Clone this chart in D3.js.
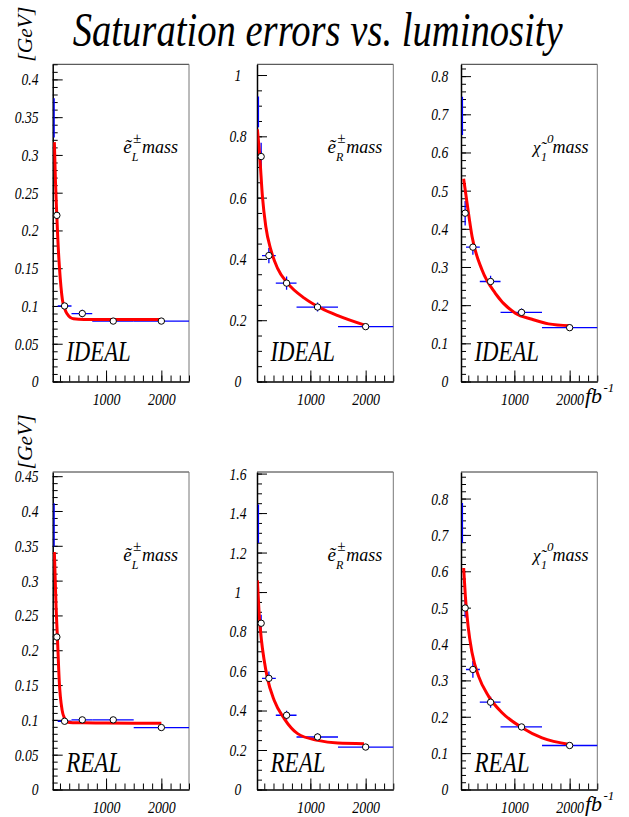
<!DOCTYPE html>
<html><head><meta charset="utf-8">
<script src="https://cdn.jsdelivr.net/npm/d3@7"></script>
</head><body style="margin:0;background:#fff">
<svg id="c" width="629" height="817" style="display:block"></svg>
<script>
// ---------- data ----------
const lumi   = [110, 250, 570, 1130, 2000];       // fb^-1
const lumiLo = [85, 125, 375, 750, 1500];
const lumiHi = [135, 375, 750, 1500, 2500];
const edgeLumi = 60;
const xTickLabels = [1000, 2000];

// IDEAL, e_L
const idealELVals = [0.22, 0.10, 0.09, 0.08, 0.08];
const idealELErrs = [0.003, 0.003, 0.005, 0.004, 0.004];
const idealELEdge = [0.323, 0.375];
const idealELFitX = [65, 85, 109, 130, 156, 185, 211, 250, 291, 411, 600, 1000, 2000];
const idealELFitY = [0.317, 0.265, 0.22, 0.185, 0.152, 0.125, 0.108, 0.097, 0.090, 0.083, 0.082, 0.082, 0.082];
const idealELTicks = [0, 0.05, 0.1, 0.15, 0.2, 0.25, 0.3, 0.35, 0.4];

// IDEAL, e_R
const idealERVals = [0.734, 0.411, 0.321, 0.243, 0.179];
const idealERErrs = [0.045, 0.025, 0.022, 0.015, 0.006];
const idealEREdge = [0.83, 0.93];
const idealERFitX = [42, 85, 133, 194, 285, 405, 587, 891, 1194, 1497, 2000];
const idealERFitY = [0.823, 0.734, 0.604, 0.506, 0.43, 0.37, 0.321, 0.272, 0.239, 0.215, 0.183];
const idealERTicks = [0, 0.2, 0.4, 0.6, 0.8, 1];

// IDEAL, chi1
const idealChiVals = [0.441, 0.352, 0.262, 0.181, 0.141];
const idealChiErrs = [0.032, 0.02, 0.015, 0.01, 0.004];
const idealChiEdge = [0.646, 0.746];
const idealChiFitX = [83, 145, 235, 416, 656, 1018, 1320, 1620, 2000];
const idealChiFitY = [0.531, 0.467, 0.38, 0.292, 0.231, 0.179, 0.163, 0.151, 0.146];
const idealChiTicks = [0, 0.1, 0.2, 0.3, 0.4, 0.5, 0.6, 0.7, 0.8];

// REAL, e_L
const realELVals = [0.219, 0.098, 0.1, 0.1, 0.089];
const realELErrs = [0.003, 0.003, 0.004, 0.004, 0.004];
const realELEdge = [0.349, 0.411];
const realELFitX = [65, 96, 120, 156, 205, 250, 291, 400, 593, 1000, 2000];
const realELFitY = [0.341, 0.262, 0.219, 0.152, 0.114, 0.102, 0.097, 0.096, 0.0957, 0.0955, 0.095];
const realELTicks = [0, 0.05, 0.1, 0.15, 0.2, 0.25, 0.3, 0.35, 0.4, 0.45];

// REAL, e_R
const realERVals = [0.842, 0.563, 0.376, 0.266, 0.215];
const realERErrs = [0.043, 0.034, 0.023, 0.019, 0.008];
const realEREdge = [1.249, 1.444];
const realERFitX = [42, 73, 115, 164, 224, 345, 527, 770, 1133, 1497, 1970];
const realERFitY = [1.059, 0.893, 0.757, 0.656, 0.563, 0.452, 0.359, 0.283, 0.249, 0.235, 0.232];
const realERTicks = [0, 0.2, 0.4, 0.6, 0.8, 1, 1.2, 1.4, 1.6];

// REAL, chi1
const realChiVals = [0.499, 0.33, 0.24, 0.172, 0.121];
const realChiErrs = [0.026, 0.023, 0.015, 0.008, 0.004];
const realChiEdge = [0.678, 0.788];
const realChiFitX = [83, 114, 163, 235, 354, 535, 778, 1139, 1501, 2000];
const realChiFitY = [0.609, 0.531, 0.449, 0.376, 0.311, 0.256, 0.211, 0.17, 0.142, 0.124];
const realChiTicks = [0, 0.1, 0.2, 0.3, 0.4, 0.5, 0.6, 0.7, 0.8];

// ---------- layout ----------
const colLeft = [52.7, 257, 461];
const rowTop = [64.3, 472];
const rowH = [317.2, 317.5];
const plotW = 136.3;
const xDomain = [35, 2500];
const FONT = '"Liberation Serif"';

const panels = [
  {row:0,col:0,tag:"IDEAL",part:"L",vals:idealELVals,errs:idealELErrs,edge:idealELEdge,fx:idealELFitX,fy:idealELFitY,ticks:idealELTicks,yMax:0.42,minor:0.01,lab:"end",gap:14.2},
  {row:0,col:1,tag:"IDEAL",part:"R",vals:idealERVals,errs:idealERErrs,edge:idealEREdge,fx:idealERFitX,fy:idealERFitY,ticks:idealERTicks,yMax:1.035,minor:0.05,lab:"middle",gap:19},
  {row:0,col:2,tag:"IDEAL",part:"chi",vals:idealChiVals,errs:idealChiErrs,edge:idealChiEdge,fx:idealChiFitX,fy:idealChiFitY,ticks:idealChiTicks,yMax:0.831,minor:0.02,lab:"end",gap:12.7},
  {row:1,col:0,tag:"REAL",part:"L",vals:realELVals,errs:realELErrs,edge:realELEdge,fx:realELFitX,fy:realELFitY,ticks:realELTicks,yMax:0.456,minor:0.01,lab:"end",gap:14.2},
  {row:1,col:1,tag:"REAL",part:"R",vals:realERVals,errs:realERErrs,edge:realEREdge,fx:realERFitX,fy:realERFitY,ticks:realERTicks,yMax:1.608,minor:0.05,lab:"middle",gap:19},
  {row:1,col:2,tag:"REAL",part:"chi",vals:realChiVals,errs:realChiErrs,edge:realChiEdge,fx:realChiFitX,fy:realChiFitY,ticks:realChiTicks,yMax:0.873,minor:0.02,lab:"end",gap:12.7}
];

const svg = d3.select("#c");
const BLUE = "#0000ff", RED = "#ff0000";

function txt(parent, x, y, s, size, len, anchor) {
  const t = parent.append("text").attr("x", x).attr("y", y)
    .attr("font-size", size).attr("text-anchor", anchor || "start").text(s);
  if (len) t.attr("textLength", len).attr("lengthAdjust", "spacingAndGlyphs");
  return t;
}

// title
txt(svg, 72.7, 46, "Saturation errors vs. luminosity", 49, 490);

// unit labels
rowTop.forEach((top, r) => {
  svg.append("text").attr("transform", `translate(32,${top - 30.1}) rotate(-90)`)
    .attr("font-size", 20).attr("text-anchor", "middle")
    .attr("textLength", 55).attr("lengthAdjust", "spacingAndGlyphs").text("[GeV]");
  const bot = top + rowH[r];
  const f = svg.append("text").attr("font-size", 22);
  f.append("tspan").attr("x", 585).attr("y", bot + 21.8).text("fb");
  f.append("tspan").attr("x", 603.5).attr("y", bot + 10).attr("font-size", 13).text("-1");
});

const fmt = v => String(+v.toFixed(2));

panels.forEach((p, i) => {
  const L = colLeft[p.col], T = rowTop[p.row], H = rowH[p.row];
  const g = svg.append("g").attr("transform", `translate(${L},${T})`);
  const x = d3.scaleLinear().domain(xDomain).range([0, plotW]);
  const y = d3.scaleLinear().domain([0, p.yMax]).range([H, 0]);

  // frame top/right
  g.append("line").attr("x1", 0).attr("x2", plotW).attr("y1", 0).attr("y2", 0)
    .attr("stroke", "#333").attr("stroke-width", 1);
  g.append("line").attr("x1", plotW).attr("x2", plotW).attr("y1", 0).attr("y2", H)
    .attr("stroke", "#777").attr("stroke-width", 1);

  // minor y ticks
  const minorY = d3.range(0, p.yMax + 1e-9, p.minor);
  g.append("g").call(d3.axisLeft(y).tickValues(minorY).tickSize(-5).tickSizeOuter(0).tickFormat(""))
    .call(a => a.select(".domain").remove());
  // major y ticks + labels
  const sx = 0.8;
  const gy = g.append("g").call(d3.axisLeft(y).tickValues(p.ticks).tickSize(-10).tickSizeOuter(0).tickFormat(fmt));
  gy.select(".domain").attr("stroke-width", 1.5);
  gy.selectAll("text").attr("font-size", 17)
    .attr("text-anchor", p.lab)
    .attr("x", -p.gap / sx)
    .attr("transform", `scale(${sx},1)`);

  // x ticks
  const minorX = d3.range(0, 2501, 1000 / 6).filter(v => v >= xDomain[0] - 1);
  g.append("g").attr("transform", `translate(0,${H})`)
    .call(d3.axisBottom(x).tickValues(minorX).tickSize(-6).tickSizeOuter(0).tickFormat(""))
    .call(a => a.select(".domain").remove());
  const gx = g.append("g").attr("transform", `translate(0,${H})`)
    .call(d3.axisBottom(x).tickValues(xTickLabels).tickSize(-11).tickSizeOuter(0).tickPadding(11).tickFormat(d3.format("d")));
  gx.select(".domain").attr("stroke-width", 1.5);
  gx.selectAll("text").attr("font-size", 17).attr("transform", "scale(0.82,1)");

  // clip
  const cid = "clip" + i;
  g.append("clipPath").attr("id", cid).append("rect")
    .attr("x", 0.5).attr("y", 0).attr("width", plotW).attr("height", H);
  const d = g.append("g").attr("clip-path", `url(#${cid})`);

  // edge error bar
  d.append("line").attr("x1", x(edgeLumi)).attr("x2", x(edgeLumi))
    .attr("y1", y(p.edge[0])).attr("y2", y(p.edge[1]))
    .attr("stroke", BLUE).attr("stroke-width", 1.4);

  const pts = p.vals.map((v, k) => ({x: lumi[k], lo: lumiLo[k], hi: lumiHi[k], v, e: p.errs[k]}));
  d.selectAll(".hb").data(pts).join("line")
    .attr("x1", q => x(q.lo)).attr("x2", q => x(q.hi))
    .attr("y1", q => y(q.v)).attr("y2", q => y(q.v))
    .attr("stroke", BLUE).attr("stroke-width", 1.3);
  d.selectAll(".vb").data(pts).join("line")
    .attr("x1", q => x(q.x)).attr("x2", q => x(q.x))
    .attr("y1", q => y(q.v - q.e)).attr("y2", q => y(q.v + q.e))
    .attr("stroke", BLUE).attr("stroke-width", 1.3);

  // fit curve
  const line = d3.line().x(k => x(p.fx[k])).y(k => y(p.fy[k])).curve(d3.curveMonotoneX);
  d.append("path").attr("d", line(d3.range(p.fx.length)))
    .attr("fill", "none").attr("stroke", RED).attr("stroke-width", 3);

  // markers
  d.selectAll("circle").data(pts).join("circle")
    .attr("cx", q => x(q.x)).attr("cy", q => y(q.v)).attr("r", 3.2)
    .attr("fill", "#fff").attr("stroke", "#000").attr("stroke-width", 1);

  // IDEAL / REAL
  const tagBase = p.row === 0 ? H - 20.5 : H - 18;
  txt(g, 13.5, tagBase, p.tag, 30, p.tag === "IDEAL" ? 64.5 : 55);

  // particle label: single text element with positioned tspans
  const base = 88.7;
  const t = g.append("text").attr("font-size", 19);
  if (p.part === "chi") {
    t.append("tspan").attr("x", 72).attr("y", base).attr("font-size", 17).text("χ\u0303");
    t.append("tspan").attr("x", 80).attr("y", base + 8.5).attr("font-size", 12).text("1");
    t.append("tspan").attr("x", 86).attr("y", base - 10).attr("font-size", 13).text("0");
    t.append("tspan").attr("x", 91.5).attr("y", base).attr("font-size", 18).text("mass");
  } else {
    t.append("tspan").attr("x", 70.6).attr("y", base).text("ẽ");
    t.append("tspan").attr("x", 80.2).attr("y", base - 9.5).attr("font-size", 15).text("±");
    t.append("tspan").attr("x", 79).attr("y", base + 8).attr("font-size", 12).text(p.part);
    t.append("tspan").attr("x", 89.3).attr("y", base).attr("font-size", 18).text("mass");
  }
});

// fonts: one serif italic family, set directly on every text element
svg.selectAll("g").attr("font-family", null);
svg.selectAll("text").each(function () {
  this.style.fontFamily = FONT;
  this.style.fontStyle = "italic";
  this.style.fill = "#000";
});
</script>
</body></html>
